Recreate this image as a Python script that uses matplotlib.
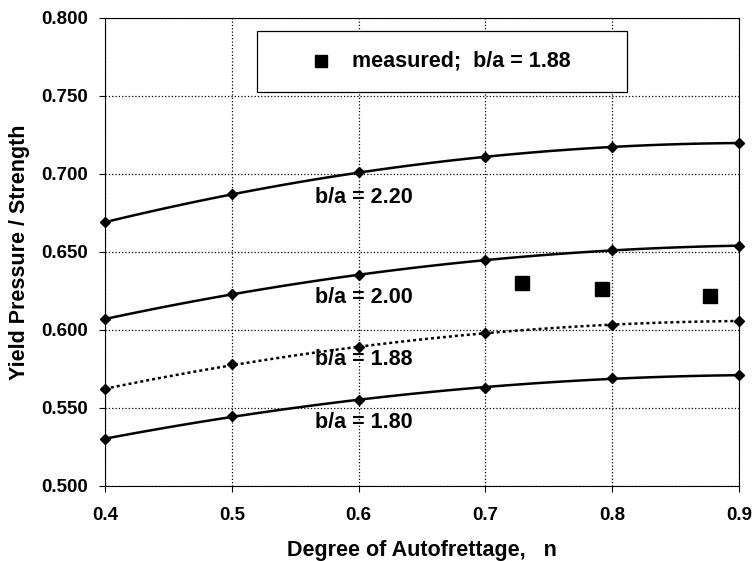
import numpy as np
import matplotlib
matplotlib.use("Agg")
import matplotlib.pyplot as plt
from matplotlib.patches import Rectangle

plt.rcParams["font.family"] = ["Liberation Sans", "DejaVu Sans"]
plt.rcParams["font.weight"] = "bold"

# degree of autofrettage
n = [0.4, 0.5, 0.6, 0.7, 0.8, 0.9]

# computed yield pressure / strength for each b/a
y_220 = [0.669, 0.687, 0.701, 0.711, 0.717, 0.720]
y_200 = [0.607, 0.623, 0.635, 0.645, 0.651, 0.654]
y_188 = [0.562, 0.578, 0.589, 0.598, 0.603, 0.606]
y_180 = [0.530, 0.545, 0.555, 0.563, 0.569, 0.571]

# measured, b/a = 1.88
n_meas = [0.729, 0.792, 0.877]
y_meas = [0.630, 0.626, 0.622]

labels = ["b/a = 2.20", "b/a = 2.00", "b/a = 1.88", "b/a = 1.80"]
label_y = [0.6846, 0.6205, 0.5808, 0.5404]

fig = plt.figure(figsize=(7.52, 5.61), dpi=100)
ax = fig.add_axes([0.1396, 0.1337, 0.8431, 0.8343])

xs = np.linspace(0.4, 0.9, 100)
series = [y_220, y_200, y_188, y_180]
styles = ["-", "-", (0, (1.2, 1.2)), "-"]
for ys, ls in zip(series, styles):
    # smooth trendline through the computed points
    coef = np.polyfit(n, ys, 2)
    ax.plot(xs, np.polyval(coef, xs), color="black", lw=1.8, ls=ls,
            zorder=3, clip_on=False)
    ax.plot(n, ys, ls="none", marker="D", ms=5.2, color="black",
            zorder=4, clip_on=False)

ax.plot(n_meas, y_meas, ls="none", marker="s", ms=10, color="black", zorder=5)

for lab, ly in zip(labels, label_y):
    ax.text(0.5656, ly, lab, fontsize=15.5, fontweight="bold",
            va="center", ha="left", zorder=6)

ax.set_xlim(0.4, 0.9)
ax.set_ylim(0.5, 0.8)
ax.set_xticks(n)
ax.set_xticklabels(["0.4", "0.5", "0.6", "0.7", "0.8", "0.9"])
ax.set_yticks([0.5, 0.55, 0.6, 0.65, 0.7, 0.75, 0.8])
ax.set_yticklabels(["0.500", "0.550", "0.600", "0.650", "0.700", "0.750", "0.800"])
ax.tick_params(labelsize=13.5, length=4, width=0.8, direction="out")
ax.tick_params(axis="x", pad=11)
ax.tick_params(axis="y", pad=8)
for t in ax.get_xticklabels() + ax.get_yticklabels():
    t.set_fontweight("bold")
ax.grid(True, color="black", ls=":", lw=0.9)
for s in ax.spines.values():
    s.set_linewidth(0.8)

ax.set_xlabel("Degree of Autofrettage,   n", fontsize=15.5, fontweight="bold",
              labelpad=12)
ax.set_ylabel("Yield Pressure / Strength", fontsize=15.5, fontweight="bold",
              labelpad=8)

# legend box
ax.add_patch(Rectangle((0.24, 0.842), 0.583, 0.13, transform=ax.transAxes,
                       facecolor="white", edgecolor="black", lw=0.9, zorder=7))
ax.plot([0.340], [0.907], transform=ax.transAxes, marker="s", ms=9,
        color="black", ls="none", zorder=8)
ax.text(0.390, 0.907, "measured;  b/a = 1.88", transform=ax.transAxes,
        fontsize=15.5, fontweight="bold", va="center", ha="left", zorder=8)

fig.savefig("out.png", dpi=100)
